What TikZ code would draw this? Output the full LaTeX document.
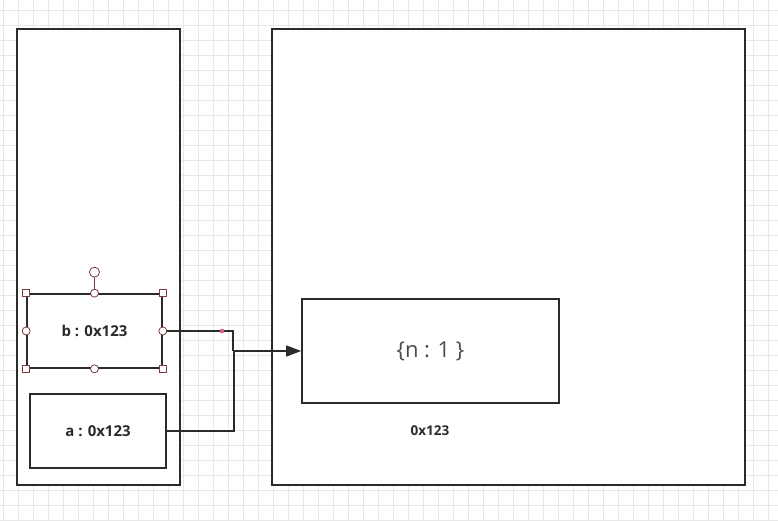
\documentclass[tikz,border=0pt]{standalone}
\usepackage{fontspec}
\setmainfont{Open Sans}
\usetikzlibrary{arrows.meta}
\definecolor{gridc}{HTML}{E8E8E8}
\definecolor{linec}{HTML}{2B2B2B}
\definecolor{selc}{HTML}{7A3B3B}
\definecolor{dotc}{HTML}{D9607A}
\tikzset{
  conn/.style={draw=linec, line width=1.7pt},
  handlesq/.style={draw=selc, fill=white, line width=0.8pt, minimum size=7pt, inner sep=0pt, rectangle},
  handlec/.style={draw=selc, fill=white, line width=0.8pt, minimum size=8pt, inner sep=0pt, circle},
  lbl/.style={font=\bfseries\fontsize{15}{18}\selectfont, text=linec},
}
\begin{document}
\begin{tikzpicture}[x=1pt,y=-1pt]
\useasboundingbox (0,0) rectangle (778,521);
\fill[white] (0,0) rectangle (778,521);
\foreach \x in {3,18,...,778} \draw[gridc, line width=0.7pt] (\x,0) -- (\x,521);
\foreach \y in {10,25,...,521} \draw[gridc, line width=0.7pt] (0,\y) -- (778,\y);
% frames
\draw[linec, line width=1.7pt, fill=white] (17,29) rectangle (180,485);
\draw[linec, line width=1.7pt, fill=white] (272,29) rectangle (745,485);
% nodes
\node[draw=linec, line width=1.7pt, fill=white, minimum width=257pt, minimum height=104pt, inner sep=0pt,
  font=\fontsize{22}{26}\selectfont, text=linec!85] (obj) at (430.5,351) {\{n : 1 \}};
\node[draw=linec, line width=1.7pt, fill=white, minimum width=135pt, minimum height=74pt, inner sep=0pt, lbl] (b) at (94.5,331) {b : 0x123};
\node[draw=linec, line width=1.7pt, fill=white, minimum width=136pt, minimum height=74pt, inner sep=0pt, lbl] (a) at (98,431) {a : 0x123};
\node[lbl, font=\bfseries\fontsize{13.5}{16}\selectfont] (addr) at (430,431) {0x123};
% connectors
\draw[conn] (b.east) -| (233,331) -- (233,351);
\draw[conn] (a.east) -| (234,351);
\draw[conn, -{Triangle[length=15pt,width=11pt]}] (233,351) -- (obj.west);
\fill[dotc] (222,331) circle (2.3pt);
% selection handles
\draw[selc, line width=0.8pt] (b.north) -- ++(0,-21) node[handlec, minimum size=10pt, anchor=center] (rot) {};
\node[handlec] at (b.north) {};
\node[handlec] at (b.south) {};
\node[handlec] at (b.west) {};
\node[handlec] at (b.east) {};
\node[handlesq] at (b.north west) {};
\node[handlesq] at (b.north east) {};
\node[handlesq] at (b.south west) {};
\node[handlesq] at (b.south east) {};
\end{tikzpicture}
\end{document}
